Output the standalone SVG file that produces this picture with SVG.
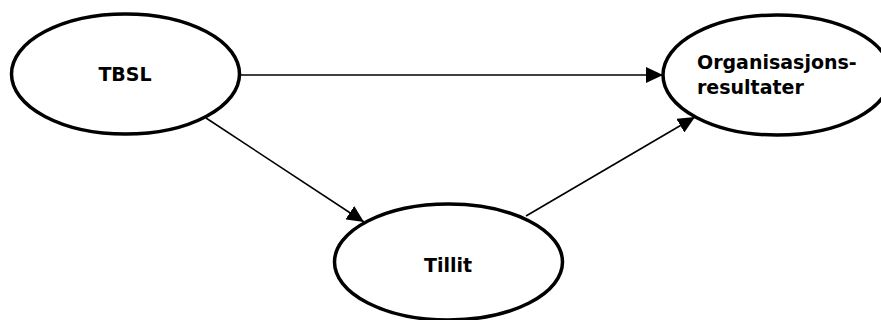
<svg xmlns="http://www.w3.org/2000/svg" width="881" height="320" viewBox="0 0 881 320">
<style>
.node{fill:#fff;stroke:#000;stroke-width:3.5}
.lbl{font-family:"DejaVu Sans","Verdana",sans-serif;font-weight:bold;font-size:19px;fill:#000}
.edge{stroke:#000;stroke-width:1.6;fill:none}
</style>
<defs>
<marker id="arr" markerUnits="userSpaceOnUse" markerWidth="18" markerHeight="16" refX="17" refY="8" orient="auto">
<path d="M0,0 L17,8 L0,16 Z" fill="#000"/>
</marker>
</defs>
<rect width="881" height="320" fill="#fff"/>
<g id="connectors">
<line class="edge" x1="240" y1="75" x2="663" y2="75" marker-end="url(#arr)"/>
<line class="edge" x1="206" y1="118" x2="364" y2="222" marker-end="url(#arr)"/>
<line class="edge" x1="526" y1="216" x2="695" y2="117" marker-end="url(#arr)"/>
</g>
<g id="tbsl">
<ellipse class="node" cx="125.5" cy="74" rx="114" ry="60"/>
<text class="lbl" x="125" y="81" text-anchor="middle">TBSL</text>
</g>
<g id="org">
<ellipse class="node" cx="777" cy="75" rx="114" ry="60"/>
<text class="lbl" x="697" y="69">Organisasjons-</text>
<text class="lbl" x="697" y="94">resultater</text>
</g>
<g id="tillit">
<ellipse class="node" cx="448.5" cy="262" rx="114" ry="58"/>
<text class="lbl" x="448" y="272" text-anchor="middle">Tillit</text>
</g>
</svg>
